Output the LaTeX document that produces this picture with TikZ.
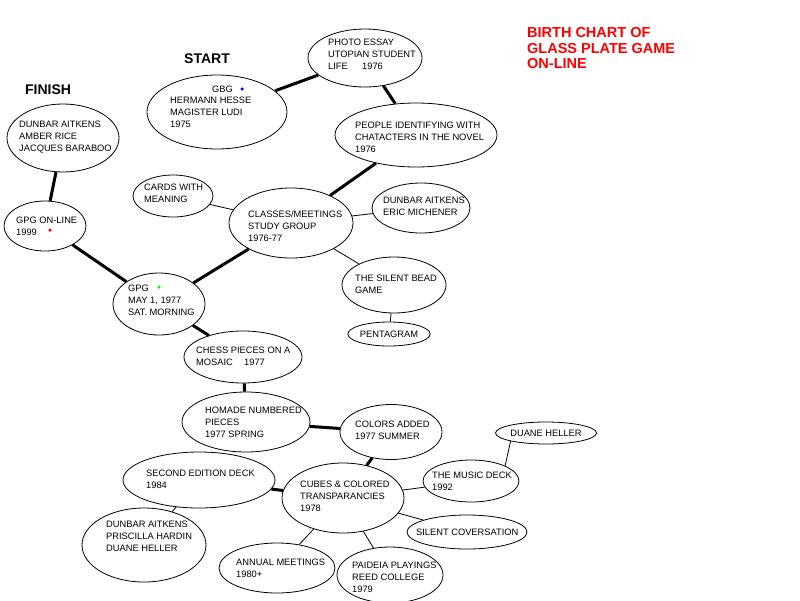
\documentclass[tikz,border=0pt]{standalone}
\usepackage{fontspec}
\setmainfont{Liberation Sans}
\usetikzlibrary{shapes.geometric}
\begin{document}
\begin{tikzpicture}[x=1pt,y=-1pt,
  ell/.style={ellipse, draw, line width=0.8pt, inner sep=0pt},
  txt/.style={anchor=west, align=left, inner sep=0pt, font=\fontsize{9.3}{12}\selectfont},
  ctxt/.style={font=\fontsize{9.3}{12}\selectfont},
  heavy/.style={line width=3pt},
  thinlink/.style={line width=0.8pt},
  dot/.style={circle, inner sep=0pt, minimum size=3.5pt},
  head/.style={font=\fontsize{14}{16}\selectfont\bfseries, inner sep=0pt},
  title/.style={font=\fontsize{14.5}{15.5}\selectfont\bfseries, text=red, anchor=west, align=left, inner sep=0pt}]
\useasboundingbox (0,0) rectangle (800,600);
\fill[white] (0,0) rectangle (800,600);

% headings
\node[head] (start) at (207,59) {START};
\node[head] (finish) at (48,90) {FINISH};
\node[title] (ttl) at (527,48.5) {BIRTH CHART OF\\GLASS PLATE GAME\\ON-LINE};

% ellipses
\node[ell, minimum width=140pt, minimum height=74pt] (gbg) at (217,112) {};
\node[ell, minimum width=112pt, minimum height=68pt] (fin) at (63,138) {};
\node[ell, minimum width=82pt, minimum height=50pt] (online) at (45,226) {};
\node[ell, minimum width=114pt, minimum height=58pt] (photo) at (365,58) {};
\node[ell, minimum width=162pt, minimum height=64pt] (people) at (416,135) {};
\node[ell, minimum width=124pt, minimum height=70pt] (classes) at (291,223) {};
\node[ell, minimum width=80pt, minimum height=42pt] (cards) at (173,196) {};
\node[ell, minimum width=98pt, minimum height=50pt] (eric) at (421,208) {};
\node[ell, minimum width=104pt, minimum height=56pt] (bead) at (394,285) {};
\node[ell, minimum width=74pt, minimum height=24pt, ctxt] (penta) at (389,334) {PENTAGRAM};
\node[ell, minimum width=92pt, minimum height=62pt] (gpg) at (159,304) {};
\node[ell, minimum width=118pt, minimum height=52pt] (chess) at (243,357) {};
\node[ell, minimum width=128pt, minimum height=60pt] (homade) at (246,422) {};
\node[ell, minimum width=102pt, minimum height=55pt] (colors) at (391,432) {};
\node[ell, minimum width=122pt, minimum height=70pt] (cubes) at (343,498) {};
\node[ell, minimum width=152pt, minimum height=56pt] (second) at (199,480) {};
\node[ell, minimum width=124pt, minimum height=74pt] (prisc) at (144,545) {};
\node[ell, minimum width=116pt, minimum height=50pt] (annual) at (277,568) {};
\node[ell, minimum width=106pt, minimum height=56pt] (paideia) at (390,575) {};
\node[ell, minimum width=96pt, minimum height=42pt] (music) at (471,481) {};
\node[ell, minimum width=86pt, minimum height=22pt, ctxt] (duane) at (546,433) {DUANE HELLER};
\node[ell, minimum width=120pt, minimum height=34pt] (conv) at (467,532) {};

% texts
\node[txt] (gbg-a) at (212,89) {GBG};
\node[txt] (gbg-b) at (170,112.5) {HERMANN HESSE\\MAGISTER LUDI\\1975};
\node[txt] (fin-t) at (19,137) {DUNBAR AITKENS\\AMBER RICE\\JACQUES BARABOO};
\node[txt] (online-t) at (16,226) {GPG ON-LINE\\1999};
\node[txt] (photo-t) at (328,54) {PHOTO ESSAY\\UTOPIAN STUDENT\\\makebox[34pt][l]{LIFE}1976};
\node[txt] (people-t) at (355,137) {PEOPLE IDENTIFYING WITH\\CHATACTERS IN THE NOVEL\\1976};
\node[txt] (classes-t) at (248,226) {CLASSES/MEETINGS\\STUDY GROUP\\1976-77};
\node[txt] (cards-t) at (144,193) {CARDS WITH\\MEANING};
\node[txt] (eric-t) at (383,206) {DUNBAR AITKENS\\ERIC MICHENER};
\node[txt] (bead-t) at (355,284) {THE SILENT BEAD\\GAME};
\node[txt] (gpg-t) at (128,300) {GPG\\MAY 1, 1977\\SAT. MORNING};
\node[txt] (chess-t) at (196,356) {CHESS PIECES ON A\\\makebox[48pt][l]{MOSAIC}1977};
\node[txt] (homade-t) at (205,422) {HOMADE NUMBERED\\PIECES\\1977 SPRING};
\node[txt] (colors-t) at (355,430) {COLORS ADDED\\1977 SUMMER};
\node[txt] (cubes-t) at (300,496) {CUBES \& COLORED\\TRANSPARANCIES\\1978};
\node[txt] (second-t) at (146,479) {SECOND EDITION DECK\\1984};
\node[txt] (prisc-t) at (106,536) {DUNBAR AITKENS\\PRISCILLA HARDIN\\DUANE HELLER};
\node[txt] (annual-t) at (236,568.5) {ANNUAL MEETINGS\\1980+};
\node[txt] (paideia-t) at (352,577) {PAIDEIA PLAYINGS\\REED COLLEGE\\1979};
\node[txt] (music-t) at (432,481.5) {THE MUSIC DECK\\1992};
\node[txt] (conv-t) at (416,532) {SILENT COVERSATION};

% dots
\node[dot, fill=blue] (bdot) at (242,89) {};
\node[dot, fill=red] (rdot) at (50,230) {};
\node[dot, fill=green] (gdot) at (159,287) {};

% heavy connectors
\draw[heavy] (gbg) -- (photo);
\draw[heavy] (photo) -- (people);
\draw[heavy] (people) -- (classes);
\draw[heavy] (classes) -- (gpg);
\draw[heavy] (fin) -- (online);
\draw[heavy] (online) -- (gpg);
\draw[heavy] (gpg) -- (chess);
\draw[heavy] (chess) -- (homade);
\draw[heavy] (homade) -- (colors);
\draw[heavy] (colors) -- (cubes);
\draw[heavy] (second) -- (cubes);

% thin connectors
\draw[thinlink] (cards) -- (classes);
\draw[thinlink] (classes) -- (eric);
\draw[thinlink] (classes) -- (bead);
\draw[thinlink] (bead) -- (penta);
\draw[thinlink] (second) -- (prisc);
\draw[thinlink] (cubes) -- (annual);
\draw[thinlink] (cubes) -- (paideia);
\draw[thinlink] (cubes) -- (music);
\draw[thinlink] (cubes) -- (conv);
\draw[thinlink] (music.24) -- (duane.193);
\end{tikzpicture}
\end{document}
